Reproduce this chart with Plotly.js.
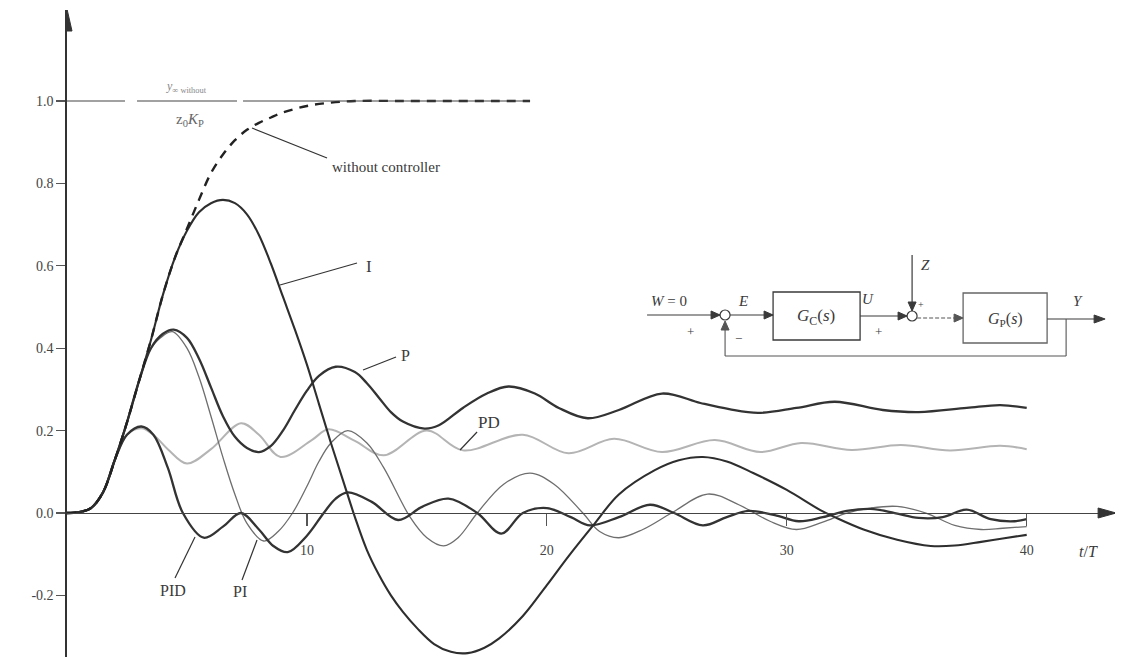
<!DOCTYPE html>
<html>
<head>
<meta charset="utf-8">
<script src="https://cdn.plot.ly/plotly-3.0.1.min.js"></script>
<style>html,body{margin:0;padding:0;background:#fff;}#chart{width:1121px;height:657px;}</style>
</head>
<body>
<div id="chart"></div>
<script>
// ---- data (t/T and y/(z0*Kp)) ----
const tOpen = [0,0.5,1,1.5,2,2.5,3,3.5,4,4.5,5,5.5,6,6.5,7,7.5,8,8.5,9,10,11,12,14,16,18,19.3];
const yOpen = [0,0.002,0.012,0.05,0.13,0.22,0.32,0.42,0.53,0.62,0.69,0.76,0.825,0.87,0.905,0.93,0.947,0.96,0.972,0.988,0.996,1.0,1.0,1.0,1.0,1.0];

const tI = [0,0.5,1,1.5,2,2.5,3,3.5,4,4.5,5,5.5,6,6.5,7,7.5,8,8.5,9,9.5,10,10.5,11,11.5,12,12.5,13,13.5,14,14.6,15.3,16,16.7,17.4,18,19,20,20.9,22,23,24.5,25.5,26.5,27.5,28.6,30,31.4,32,33.2,34.6,36,37,38.1,39,40];
const yI = [0,0.002,0.012,0.05,0.13,0.22,0.32,0.42,0.53,0.62,0.685,0.73,0.752,0.76,0.752,0.725,0.675,0.605,0.525,0.445,0.36,0.265,0.17,0.08,-0.01,-0.09,-0.15,-0.2,-0.24,-0.28,-0.318,-0.337,-0.34,-0.327,-0.305,-0.25,-0.175,-0.105,-0.025,0.045,0.104,0.128,0.136,0.125,0.097,0.056,0.007,-0.01,-0.04,-0.065,-0.08,-0.079,-0.07,-0.062,-0.053];

const tP = [0,0.5,1,1.5,2,2.5,3,3.5,4,4.45,5,5.5,6,6.5,7,7.5,8,8.5,9,9.5,10,10.5,11.2,12,12.5,13,13.5,14,14.9,15.5,16.5,17.5,18.4,19.5,20.5,21.7,23,24.8,26.4,27.6,28.8,30.4,32,34,35.5,37.5,38.9,40];
const yP = [0,0.002,0.012,0.05,0.13,0.22,0.32,0.4,0.435,0.445,0.425,0.375,0.305,0.235,0.185,0.158,0.148,0.163,0.2,0.25,0.297,0.333,0.355,0.342,0.315,0.28,0.245,0.222,0.205,0.213,0.255,0.29,0.307,0.29,0.255,0.23,0.25,0.29,0.267,0.252,0.243,0.255,0.27,0.25,0.245,0.255,0.262,0.255];

const tPI = [0,0.5,1,1.5,2,2.5,3,3.5,4,4.4,5,5.5,6,6.5,7,7.5,8.2,8.8,9.4,10,10.5,11,11.7,12.5,13.2,14.3,15,15.7,16.3,17.1,18.2,19.3,20.3,21.5,22.2,23,24,25.2,26.7,28,29.3,30.4,31.5,32.5,33.5,34.6,35.8,37,38.1,39,40];
const yPI = [0,0.002,0.012,0.05,0.13,0.22,0.32,0.4,0.43,0.44,0.4,0.33,0.235,0.135,0.045,-0.025,-0.068,-0.045,0.0,0.065,0.125,0.17,0.2,0.17,0.11,-0.01,-0.06,-0.08,-0.06,0.0,0.07,0.097,0.07,0.0,-0.045,-0.06,-0.04,0.0,0.046,0.02,-0.02,-0.04,-0.022,0.0,0.012,0.016,0.0,-0.03,-0.04,-0.037,-0.033];

const tPD = [0,0.5,1,1.5,2,2.5,3.1,3.6,4.2,5,6,7.25,8,8.9,10.2,10.9,12,13.2,15,16.5,19,20.9,22.8,24.8,27,28.9,30.6,32.7,34.75,36.8,38.9,40];
const yPD = [0,0.002,0.012,0.05,0.13,0.19,0.206,0.19,0.155,0.12,0.155,0.218,0.19,0.136,0.177,0.203,0.175,0.14,0.2,0.152,0.19,0.145,0.18,0.148,0.177,0.148,0.17,0.153,0.165,0.152,0.163,0.155];

const tPID = [0,0.5,1,1.5,2,2.5,3.1,3.6,4.2,4.83,5.7,6.5,7.25,8,8.6,9.2,10,10.7,11.2,11.7,12.7,13.8,14.8,15.9,17.1,18.1,19,20,21,21.8,23,24.3,25.3,26.5,27.5,28.4,29.5,30.5,31.5,32.5,33.5,34.5,35.5,36.5,37.5,38.5,39.5,40];
const yPID = [0,0.002,0.012,0.05,0.13,0.19,0.21,0.19,0.11,0.0,-0.06,-0.033,0.0,-0.04,-0.08,-0.095,-0.055,0.0,0.035,0.05,0.027,-0.017,0.015,0.035,0.0,-0.05,0.0,0.012,-0.01,-0.03,-0.01,0.02,0.0,-0.03,-0.01,0.005,-0.005,-0.02,-0.01,0.005,0.01,0.0,-0.012,-0.01,0.008,-0.015,-0.02,-0.015];

const xTickVals = [10,20,30,40];
const xTickText = ['10','20','30','40'];
const yTickVals = [-0.2,0,0.2,0.4,0.6,0.8,1.0];
const yTickText = ['-0.2','0.0','0.2','0.4','0.6','0.8','1.0'];

// ---- pixel helpers for decorations ----
const px2x = p => (p - 67) / 23.99;
const py2y = p => (513 - p) / 412;
const SERIF = 'Liberation Serif, DejaVu Serif, serif';
const INK = '#3a3a3a';

function seg(x0,y0,x1,y1,color,width,dash){
  return {type:'line',xref:'x',yref:'y',x0:px2x(x0),y0:py2y(y0),x1:px2x(x1),y1:py2y(y1),
    line:{color:color||INK,width:width||1.2,dash:dash||'solid'},layer:'above'};
}
function tri(tx,ty,dir,len,half,color){
  len=len||9; half=half||4;
  let pts;
  if(dir==='r') pts=[[tx,ty],[tx-len,ty-half],[tx-len,ty+half]];
  else if(dir==='l') pts=[[tx,ty],[tx+len,ty-half],[tx+len,ty+half]];
  else if(dir==='u') pts=[[tx,ty],[tx-half,ty+len],[tx+half,ty+len]];
  else pts=[[tx,ty],[tx-half,ty-len],[tx+half,ty-len]];
  const d='M '+pts.map(p=>px2x(p[0])+','+py2y(p[1])).join(' L ')+' Z';
  return {type:'path',xref:'x',yref:'y',path:d,fillcolor:color||INK,line:{color:color||INK,width:1},layer:'above'};
}
function circ(cx,cy,r){
  return {type:'circle',xref:'x',yref:'y',x0:px2x(cx-r),x1:px2x(cx+r),y0:py2y(cy+r),y1:py2y(cy-r),
    line:{color:INK,width:1.2},fillcolor:'#fff',layer:'above'};
}
function rect(x0,y0,x1,y1,color){
  return {type:'rect',xref:'x',yref:'y',x0:px2x(x0),x1:px2x(x1),y0:py2y(y1),y1:py2y(y0),
    line:{color:color||INK,width:1.3},layer:'above'};
}
function txt(x,y,text,size,opts){
  return Object.assign({xref:'x',yref:'y',x:px2x(x),y:py2y(y),text:text,showarrow:false,
    font:{family:SERIF,size:size||15,color:INK},xanchor:'center',yanchor:'middle'},opts||{});
}

const traces = [
  {x:tPD,y:yPD,mode:'lines',line:{color:'#b4b4b4',width:2,shape:'spline'},name:'PD'},
  {x:tPI,y:yPI,mode:'lines',line:{color:'#6e6e6e',width:1.3,shape:'spline'},name:'PI'},
  {x:tPID,y:yPID,mode:'lines',line:{color:'#333',width:2.3,shape:'spline'},name:'PID'},
  {x:tP,y:yP,mode:'lines',line:{color:'#333',width:2.3,shape:'spline'},name:'P'},
  {x:tI,y:yI,mode:'lines',line:{color:'#2e2e2e',width:2.1,shape:'spline'},name:'I'},
  {x:tOpen,y:yOpen,mode:'lines',line:{color:'#222',width:2.4,dash:'9px,7px',shape:'spline'},name:'without controller'}
];

const shapes = [
  // 1.0 reference line with gaps for label
  seg(67,101,125,101,'#444',1.2), seg(137,101,237,101,'#444',1.2), seg(243,101,530,101,'#444',1.2),
  // y-label fraction bar
  seg(10,40,62,40,'#aaa',1),
  // axis arrows
  tri(1116,513,'r',18,5,'#333'),
  tri(67,9,'u',22,5,'#333'),
  // label pointers
  seg(280,285,357,263,'#333',1.2),
  seg(363,370,396,357,'#333',1.2),
  seg(460,450,477,432,'#333',1.2),
  seg(175,578,195,537,'#333',1.2),
  seg(242,580,257,540,'#333',1.2),
  seg(252,128,327,158,'#333',1.2),
  // block diagram
  seg(647,315,720,315), tri(720,315,'r'),
  circ(725,315,5),
  seg(730,315,773,315), tri(773,315,'r'),
  rect(773,292,860,340),
  seg(860,316,907,316), tri(907,316,'r'),
  circ(912,316,5),
  seg(912,255,912,311), tri(912,311,'d'),
  seg(917,318,963,318,'#555',1.2,'4px,2px'), tri(963,318,'r',9,4,'#555'),
  rect(963,293,1047,343,'#666'),
  seg(1047,319,1103,319), tri(1105,319,'r',11,4),
  seg(1066,319,1066,356,'#555',1.1), seg(1066,356,725,356,'#555',1.1), seg(725,356,725,330,'#555',1.1), tri(725,321,'u',9,4,'#555')
];

const annotations = [
  txt(36,24,'<i>y</i>',17),
  txt(35,60,'z<sub>0</sub><i>K</i><sub>P</sub>',17),
  txt(186,87,'<i>y</i><sub>∞ without</sub>',12,{font:{family:SERIF,size:12,color:'#888'}}),
  txt(190,120,'z<sub>0</sub><i>K</i><sub>P</sub>',15,{font:{family:SERIF,size:15,color:'#666'}}),
  txt(1088,551,'<i>t</i>/<i>T</i>',16),
  txt(369,266,'I',17),
  txt(405,355,'P',16),
  txt(489,422,'PD',17),
  txt(173,590,'PID',16),
  txt(240,591,'PI',16),
  txt(330,167,'without controller',15,{xanchor:'left'}),
  // block diagram texts
  txt(669,301,'<i>W</i> = 0',15),
  txt(690,331,'+',13),
  txt(743,301,'<i>E</i>',15),
  txt(816,317,'<i>G</i><sub>C</sub>(<i>s</i>)',17),
  txt(868,299,'<i>U</i>',15),
  txt(878,331,'+',13),
  txt(925,265,'<i>Z</i>',15),
  txt(921,304,'+',10),
  txt(1005,319,'<i>G</i><sub>P</sub>(<i>s</i>)',16),
  txt(1078,301,'<i>Y</i>',15),
  txt(738,338,'−',13)
];

const layout = {
  width:1121, height:657,
  margin:{l:67,r:6,t:10,b:0},
  paper_bgcolor:'#fff', plot_bgcolor:'#fff',
  showlegend:false,
  xaxis:{range:[0,43.68],anchor:'free',position:(657-513)/647,showgrid:false,zeroline:false,
    showline:true,linecolor:'#444',linewidth:1.4,ticks:'outside',ticklen:12,tickcolor:'#555',tickwidth:1.2,
    tickvals:xTickVals,ticktext:xTickText,ticklabelstandoff:12,
    tickfont:{family:SERIF,size:14,color:'#444'},fixedrange:true},
  yaxis:{range:[-0.3495,1.2209],showgrid:false,zeroline:false,showline:true,linecolor:'#333',linewidth:1.6,
    ticks:'outside',ticklen:9,tickcolor:'#555',tickwidth:1.2,tickvals:yTickVals,ticktext:yTickText,
    tickfont:{family:SERIF,size:14,color:'#444'},fixedrange:true},
  shapes:shapes,
  annotations:annotations
};

Plotly.newPlot('chart',traces,layout,{staticPlot:true,displayModeBar:false});
</script>
</body>
</html>
